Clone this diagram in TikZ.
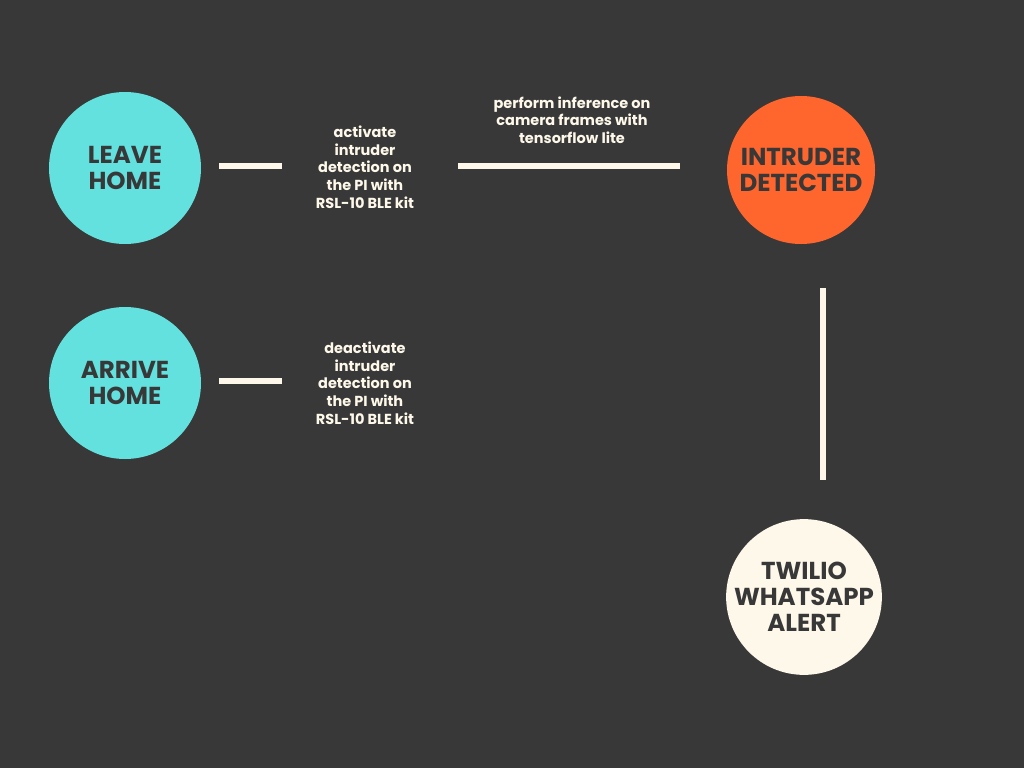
\documentclass[tikz,border=0pt]{standalone}
\usepackage{fontspec}
\setmainfont{Poppins}
\definecolor{bg}{HTML}{383838}
\definecolor{cyanc}{HTML}{62E1DF}
\definecolor{orangec}{HTML}{FF662E}
\definecolor{creamc}{HTML}{FDF8E9}
\begin{document}
\begin{tikzpicture}[x=1pt,y=-1pt,
  circ/.style={circle,minimum size=152pt,inner sep=0pt,text=bg,align=center,
    font=\bfseries\fontsize{24.5}{26}\selectfont},
  lbl/.style={text=creamc,align=center,font=\bfseries\fontsize{14.5}{17.7}\selectfont},
  conn/.style={draw=creamc,line width=6pt}]
\fill[bg] (0,0) rectangle (1024,768);
\useasboundingbox (0,0) rectangle (1024,768);
\node[circ,fill=cyanc] (leave) at (125,168) {LEAVE\\HOME};
\node[circ,fill=cyanc] (arrive) at (125,383) {ARRIVE\\HOME};
\node[circ,fill=orangec,minimum size=148pt] (intruder) at (801,170) {INTRUDER\\DETECTED};
\node[circ,fill=creamc] (twilio) at (804,597) {TWILIO\\WHATSAPP\\ALERT};
\node[lbl] (act) at (365,167) {activate\\intruder\\detection on\\the PI with\\RSL-10 BLE kit};
\node[lbl] (deact) at (365,383) {deactivate\\intruder\\detection on\\the PI with\\RSL-10 BLE kit};
\node[lbl] (perf) at (572,120) {perform inference on\\camera frames with\\tensorflow lite};
\coordinate (a1) at (219,166);
\coordinate (a2) at (282,166);
\coordinate (b1) at (458,166);
\coordinate (b2) at (680,166);
\coordinate (c1) at (219,381);
\coordinate (c2) at (282,381);
\coordinate (d1) at (823,288);
\coordinate (d2) at (823,480);
\draw[conn] (a1) -- (a2);
\draw[conn] (b1) -- (b2);
\draw[conn] (c1) -- (c2);
\draw[conn] (d1) -- (d2);
\end{tikzpicture}
\end{document}
